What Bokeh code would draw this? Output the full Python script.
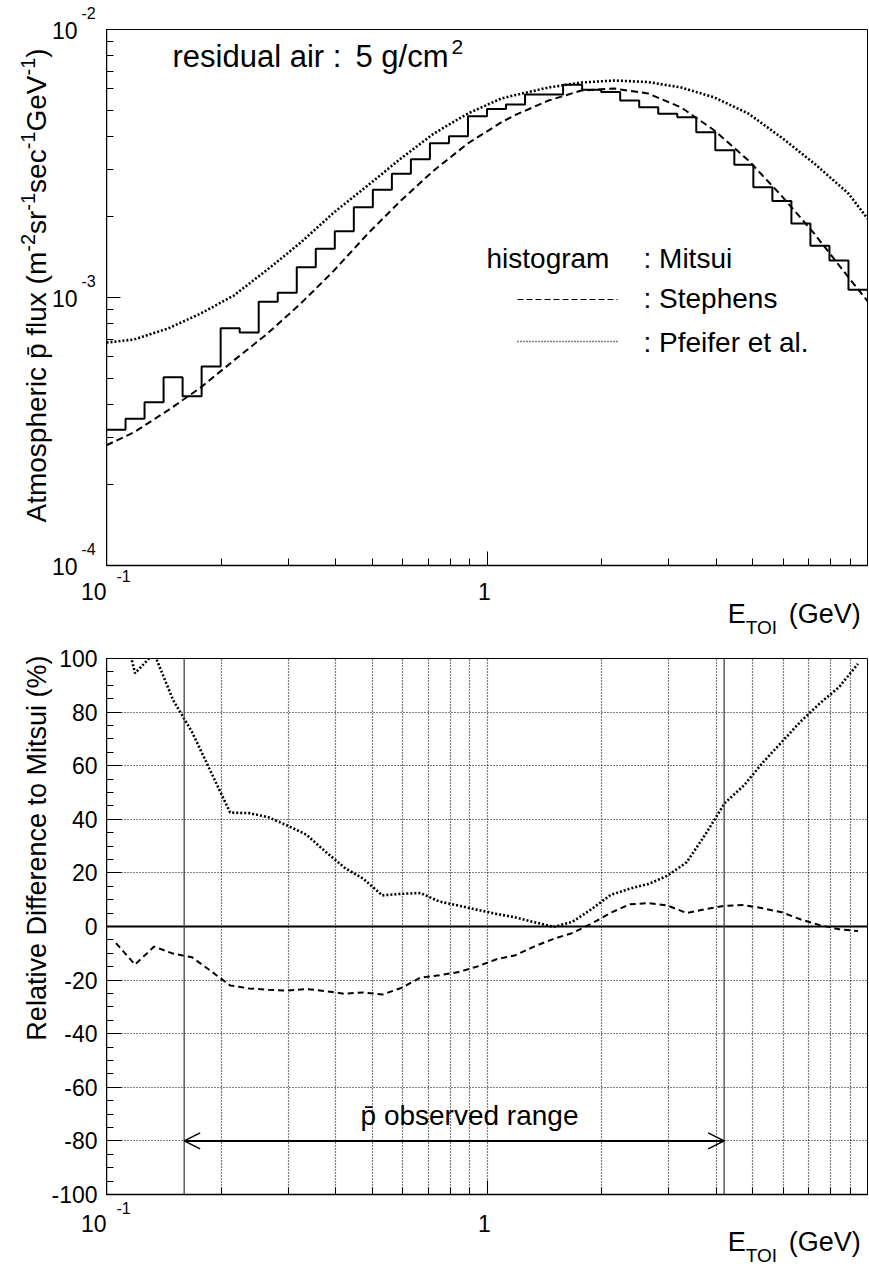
import numpy as np
from bokeh.plotting import figure
from bokeh.layouts import column, row
from bokeh.models import (FixedTicker, Label, Span, Arrow, OpenHead,
                          CustomJSTickFormatter, Range1d)
from bokeh.embed import file_html
from bokeh.resources import INLINE

FONT = "Liberation Sans"

# ---------------------------------------------------------------- data
# Mitsui histogram: 40 bins, uniform in log10(E), 0.1 .. 10 GeV
E_MIN, E_MAX, N_BINS = 0.1, 10.0, 40
mitsui_flux = [3.21e-4, 3.53e-4, 4.07e-4, 5.04e-4, 4.28e-4, 5.53e-4, 7.68e-4, 7.40e-4, 9.64e-4, 1.041e-3,
               1.297e-3, 1.52e-3, 1.768e-3, 2.173e-3, 2.522e-3, 2.893e-3, 3.281e-3, 3.764e-3, 3.998e-3, 4.747e-3,
               5.05e-3, 5.25e-3, 5.72e-3, 5.72e-3, 6.22e-3, 5.96e-3, 5.84e-3, 5.43e-3, 5.13e-3, 4.85e-3,
               4.71e-3, 4.14e-3, 3.54e-3, 3.13e-3, 2.58e-3, 2.29e-3, 1.89e-3, 1.56e-3, 1.374e-3, 1.068e-3]

# Stephens calculation (dashed)
stephens_E = [0.1, 0.118, 0.145, 0.177, 0.216, 0.265, 0.324, 0.396, 0.486, 0.594, 0.725, 0.891, 1.09,
              1.18, 1.45, 1.77, 2.16, 2.65, 3.24, 3.96, 4.86, 5.94, 7.25, 8.91, 10.0]
stephens_flux = [2.81e-4, 3.14e-4, 3.79e-4, 4.62e-4, 5.82e-4, 7.34e-4, 9.50e-4, 1.26e-3, 1.73e-3, 2.30e-3,
                 2.98e-3, 3.76e-3, 4.50e-3, 4.78e-3, 5.43e-3, 5.92e-3, 6.02e-3, 5.77e-3, 5.12e-3, 4.20e-3,
                 3.25e-3, 2.40e-3, 1.73e-3, 1.19e-3, 9.7e-4]

# Pfeifer et al. calculation (dotted)
pfeifer_E = [0.1, 0.118, 0.145, 0.177, 0.216, 0.265, 0.324, 0.396, 0.486, 0.594, 0.725, 0.891, 1.09,
             1.18, 1.45, 1.77, 2.16, 2.65, 3.24, 3.96, 4.86, 5.94, 7.25, 8.91, 10.0]
pfeifer_flux = [6.79e-4, 6.97e-4, 7.66e-4, 8.72e-4, 1.017e-3, 1.272e-3, 1.604e-3, 2.076e-3, 2.618e-3, 3.302e-3,
                4.091e-3, 4.860e-3, 5.528e-3, 5.68e-3, 6.075e-3, 6.341e-3, 6.452e-3, 6.368e-3, 6.075e-3, 5.576e-3,
                4.860e-3, 3.954e-3, 3.162e-3, 2.444e-3, 1.971e-3]

# relative difference to Mitsui (%), at the histogram bin centres
stephens_rel = [-6.2, -14.2, -7.5, -10.1, -11.5, -16.7, -22.0, -23.1, -23.6, -23.9,
                -23.3, -24.1, -25.1, -24.6, -25.4, -22.9, -19.1, -18.2, -17.0, -14.9,
                -12.2, -10.7, -7.4, -4.6, -2.4, 1.1, 5.1, 8.3, 8.7, 7.8,
                5.0, 6.5, 7.7, 8.0, 6.8, 5.3, 2.6, 0.5, -1.0, -1.7]
pfeifer_rel = [124.0, 94.5, 102.0, 84.5, 72.5, 57.5, 42.5, 42.3, 40.8, 37.7,
               34.3, 28.0, 22.0, 17.8, 11.6, 12.2, 12.5, 9.3, 7.8, 6.2,
               4.7, 3.4, 1.6, -0.2, 1.8, 6.5, 11.8, 14.1, 15.9, 19.0,
               24.0, 34.6, 46.1, 52.6, 61.2, 68.9, 76.6, 83.3, 89.3, 98.0]

observed_range = [0.16, 4.2]
arrow_level = -80

flux_ticks = [1e-4, 1e-3, 1e-2]
flux_tick_exp = ["-4", "-3", "-2"]
rel_ticks = [-100, -80, -60, -40, -20, 0, 20, 40, 60, 80, 100]
rel_minor = [v for v in range(-95, 100, 5) if v % 20 != 0]
energy_major = [0.1, 1.0, 10.0]
energy_minor = [m * 10.0 ** k for k in (-1, 0) for m in range(2, 10)]

edges = np.logspace(np.log10(E_MIN), np.log10(E_MAX), N_BINS + 1)
centers = np.sqrt(edges[:-1] * edges[1:])

# ---------------------------------------------------------------- page geometry (pixels)
PAGE_W, PAGE_H = 869, 1266
FR_L, FR_R = 106, 867
T_TOP, T_BOT = 29, 565          # top panel frame
B_TOP, B_BOT = 658, 1194        # bottom panel frame
M1_H = T_BOT + 2                # top panel canvas: 0 .. 567
S1_END = 645                    # strip under top panel: 567 .. 645
M2_START = S1_END               # bottom panel canvas: 645 .. 1196
M2_END = B_BOT + 2              # strip under bottom panel: 1196 .. 1266
MID = 0.355                     # cap-centre above the baseline, in em


def px_E(px):
    return 10 ** (-1 + 2 * (px - FR_L) / (FR_R - FR_L))


def py_flux(py):
    return 10 ** (-2 - 2 * (py - T_TOP) / (T_BOT - T_TOP))


def py_rel(py):
    return 100 - 200 * (py - B_TOP) / (B_BOT - B_TOP)


ARIAL_W = {'A': .667, 't': .278, 'm': .833, 'o': .556, 's': .5, 'p': .556, 'h': .556, 'e': .556,
           'r': .333, 'i': .222, 'c': .5, ' ': .278, 'f': .278, 'l': .222, 'u': .556, 'x': .5,
           '(': .333, ')': .333, '-': .333, '1': .556, '2': .556, 'G': .778, 'V': .667, '\u0304': 0.0}


def text_w(s, size):
    return sum(ARIAL_W.get(c, 0.556) for c in s) * size


def put(p, x, y, text, size, align="left", angle=0.0):
    p.add_layout(Label(x=x, y=y, text=text, text_font=FONT, text_font_size=f"{size}px",
                       text_align=align, text_baseline="middle", angle=angle,
                       text_color="black"))


def text_fig(x0, x1, y0, y1):
    """A blank strip whose data coordinates are the page pixels (y downwards)."""
    p = figure(width=x1 - x0, height=y1 - y0, x_range=Range1d(x0, x1), y_range=Range1d(y1, y0),
               output_backend="svg", toolbar_location=None,
               x_axis_location=None, y_axis_location=None,
               min_border_left=0, min_border_right=0, min_border_top=0, min_border_bottom=0)
    p.outline_line_color = None
    p.background_fill_color = "white"
    p.border_fill_color = "white"
    p.grid.visible = False
    return p


def make_panel(height, y_type, y_range, b_top):
    p = figure(width=PAGE_W - FR_L, height=height, x_axis_type="log", y_axis_type=y_type,
               x_range=Range1d(E_MIN, E_MAX), y_range=y_range,
               output_backend="svg", toolbar_location=None,
               min_border_left=0, min_border_right=PAGE_W - FR_R,
               min_border_top=b_top, min_border_bottom=2)
    p.outline_line_color = "black"
    p.outline_line_width = 1
    p.background_fill_color = "white"
    p.border_fill_color = "white"
    for ax in (p.xaxis[0], p.yaxis[0]):
        ax.formatter = CustomJSTickFormatter(code="return ''")
        ax.major_label_text_font_size = "0px"
        ax.major_tick_out = 0
        ax.minor_tick_out = 0
        ax.major_tick_in = 14
        ax.minor_tick_in = 7
        ax.axis_line_width = 1.5
        ax.axis_line_color = "black"
        ax.major_tick_line_color = "black"
        ax.minor_tick_line_color = "black"
        ax.major_label_standoff = 0
    p.xaxis[0].ticker = FixedTicker(ticks=energy_major, minor_ticks=energy_minor)
    return p


# ---------------------------------------------------------------- top panel
top = make_panel(M1_H, "log", Range1d(1e-4, 1e-2), T_TOP)
top.grid.visible = False
top.yaxis[0].ticker = FixedTicker(ticks=flux_ticks,
                                  minor_ticks=[m * 10.0 ** k for k in (-4, -3) for m in range(2, 10)])

top.step(list(edges), mitsui_flux + [mitsui_flux[-1]], mode="after", line_color="black", line_width=2)
top.line(stephens_E, stephens_flux, line_color="black", line_width=2, line_dash="7 4")
top.line(pfeifer_E, pfeifer_flux, line_color="black", line_width=2.6, line_dash="2 2")


def put_top(px, base_py, text, size, align="left"):
    put(top, px_E(px), py_flux(base_py - MID * size), text, size, align)


put_top(172, 67, "residual air :", 31)
put_top(355, 67, "5 g/cm", 31)
put_top(451, 54, "2", 21)

put_top(486, 268, "histogram", 28)
put_top(643, 268, ": Mitsui", 28)
put_top(643, 308, ": Stephens", 28)
put_top(643, 352, ": Pfeifer et al.", 28)
top.line([px_E(517), px_E(617)], [py_flux(299)] * 2, line_color="black", line_width=1.2, line_dash="6 3")
top.line([px_E(517), px_E(617)], [py_flux(341)] * 2, line_color="black", line_width=1.4, line_dash="1 2")

# ---------------------------------------------------------------- bottom panel
bot = make_panel(M2_END - M2_START, "linear", Range1d(-100, 100), B_TOP - M2_START)
bot.yaxis[0].ticker = FixedTicker(ticks=rel_ticks, minor_ticks=rel_minor)
bot.yaxis[0].major_tick_in = 15
bot.xgrid.ticker = FixedTicker(ticks=energy_minor + [1.0])
bot.ygrid.ticker = FixedTicker(ticks=[v for v in rel_ticks if v not in (-100, 0, 100)])
bot.grid.grid_line_color = "black"
bot.grid.grid_line_width = 1.2
bot.grid.grid_line_dash = "1 2"

bot.add_layout(Span(location=0, dimension="width", line_color="black", line_width=2))
for loc in observed_range:
    bot.add_layout(Span(location=loc, dimension="height", line_color="#444444", line_width=1.3))

bot.line(list(centers), stephens_rel, line_color="black", line_width=2, line_dash="6 4")
bot.line(list(centers), pfeifer_rel, line_color="black", line_width=2.6, line_dash="2 2")

bot.add_layout(Arrow(start=OpenHead(size=16, line_width=1.5, line_color="black"),
                     end=OpenHead(size=16, line_width=1.5, line_color="black"),
                     x_start=observed_range[0], y_start=arrow_level,
                     x_end=observed_range[1], y_end=arrow_level,
                     line_color="black", line_width=2))
put(bot, px_E(469), py_rel(1125 - MID * 28), "p\u0304 observed range", 28, align="center")

# ---------------------------------------------------------------- text strips (axis labels)
left = text_fig(0, FR_L, 0, PAGE_H)
strip1 = text_fig(FR_L, PAGE_W, M1_H, S1_END)
strip2 = text_fig(FR_L, PAGE_W, M2_END, PAGE_H)

# top panel y tick labels 10^n
for v, e in zip(flux_ticks, flux_tick_exp):
    ypx = T_TOP + (np.log10(1e-2) - np.log10(v)) * (T_BOT - T_TOP) / 2
    put(left, 77, ypx + 1, "10", 23, align="right")
    put(left, 81, ypx - 17, e, 16)

# top panel y title, built from pieces (rotated, baseline at x = 46)
pieces = [("Atmospheric p\u0304 flux (m", 28, False), ("-2", 20, True), ("sr", 28, False),
          ("-1", 20, True), ("sec", 28, False), ("-1", 20, True), ("GeV", 28, False),
          ("-1", 20, True), (")", 28, False)]
ycur = 522.0
for txt, size, sup in pieces:
    xb = (35 if sup else 46) - MID * size
    put(left, xb, ycur, txt, size, angle=np.pi / 2)
    ycur -= text_w(txt, size)

# bottom panel y tick labels and title
for v in rel_ticks:
    ypx = B_TOP + (100 - v) * (B_BOT - B_TOP) / 200
    put(left, 97, ypx, str(v), 23, align="right")
put(left, 46 - MID * 27, 655, "Relative Difference to Mitsui (%)", 27, align="right", angle=np.pi / 2)

# x tick labels "10^-1" and "1", x titles
for strip, base, sup_base, title_base in ((strip1, 599, 581.5, 623), (strip2, 1231, 1213, 1251)):
    put(left, 106, base - MID * 23, "10", 23, align="right")
    put(strip, 116, sup_base - MID * 16, "-1", 16)
    put(strip, 485, base - MID * 23, "1", 23, align="center")
    put(strip, 729, title_base - MID * 27, "E", 27)
    put(strip, 747, title_base + 11 - MID * 19, "TOI", 19)
    put(strip, 790, title_base - MID * 27, "(GeV)", 27)

layout = row(left, column(top, strip1, bot, strip2, spacing=0), spacing=0)
open("out.html", "w").write(file_html(layout, INLINE))
